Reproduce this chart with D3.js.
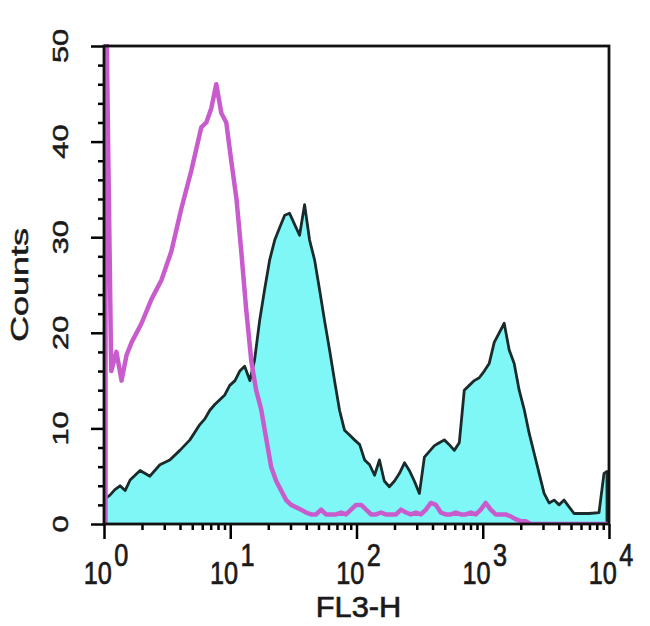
<!DOCTYPE html>
<meta charset="utf-8">
<style>
body { margin: 0; background: #fff; }
text { font-family: "Liberation Sans", Arial, sans-serif; fill: #1a1a1a; stroke: #1a1a1a; stroke-width: 0.5px; }
</style>
<div id="chart"></div>
<script src="https://d3js.org/d3.v7.min.js"></script>
<script>

// FL3-H channel values (log scale, 10^0 .. 10^4)
var bins = [1.0, 1.11, 1.22, 1.34, 1.47, 1.61, 1.93, 2.31, 2.77, 3.32, 3.99, 4.79, 5.74, 6.29, 6.89, 7.54,
  8.26, 9.05, 9.91, 10.9, 11.9, 13.0, 14.3, 15.6, 17.1, 18.7, 20.5, 22.5, 24.6, 27.0, 29.5, 35.4,
  38.8, 42.5, 46.6, 51.0, 55.8, 61.2, 67.0, 73.4, 80.4, 88.1, 96.4, 106, 116, 127, 139, 152,
  166, 182, 200, 219, 240, 262, 287, 315, 345, 378, 414, 453, 496, 543, 595, 652,
  714, 782, 857, 938, 1028, 1125, 1233, 1350, 1479, 1620, 1774, 1943, 2128, 2331, 2553, 2796,
  3062, 3354, 3674, 4024, 4407, 4827, 5287, 5791, 6947, 8335, 9130, 9640];

// stained sample (cyan filled histogram)
var stainedCounts = [2.6, 3, 3.6, 4, 3.5, 4.6, 5.6, 5, 6.2, 6.7, 7.7, 8.8, 10.4, 11, 11.9, 12.5,
  13, 13.5, 14.5, 15, 16, 16.5, 15, 17.2, 21.3, 24.5, 27.6, 29.7, 31, 32.3, 32.5, 30.2,
  33.4, 29.7, 27.6, 24.5, 21.3, 18.2, 15, 11.9, 9.8, 9.3, 8.8, 8.3, 6.7, 6.2, 5.1, 6.7,
  4.5, 3.9, 4.5, 5.3, 6.4, 5.6, 4.5, 3.2, 7, 7.6, 8.2, 8.5, 8.8, 8.3, 7.7, 8.5,
  14, 14.5, 15, 15.3, 16, 16.8, 19, 20, 21, 18.2, 16.8, 14, 12, 9.5, 7.4, 5.3,
  3.2, 2.2, 2.5, 2, 2.5, 1.8, 1.1, 1.1, 1.1, 1.2, 5.3, 5.5];

// isotype control (magenta line)
var controlCounts = [60, 16, 18, 15, 17.7, 19, 21, 23.5, 25.5, 28.5, 33, 37, 41.5, 42, 43.5, 46,
  43, 42, 38, 34, 28.5, 22.5, 17, 14, 12, 9, 6, 4.5, 3.5, 2.5, 2, 1.5,
  1.2, 1, 1, 1.5, 1, 1, 1, 1.2, 1, 1.5, 2, 2, 1.5, 1, 1, 1.2,
  1, 1, 1, 1.5, 1.2, 1, 1.2, 1, 1.5, 2.2, 2, 1.2, 1, 1, 1.2, 1,
  1, 1.2, 1, 1.5, 2.2, 1.5, 1, 1, 1, 0.8, 0.5, 0.3, 0.3, 0, 0, 0,
  0, 0, 0, 0, 0, 0, 0, 0, 0, 0, 0, 0];

var yMajor = [0, 10, 20, 30, 40, 50];
var xMajor = [1, 10, 100, 1000, 10000];
var xExp = ["0", "1", "2", "3", "4"];

var W = 650, H = 626;
var pL = 104, pR = 609, pT = 46, pB = 524;

var svg = d3.select("#chart").append("svg")
    .attr("width", W)
    .attr("height", H);

var x = d3.scaleLog().domain([1, 10000]).range([pL, pR]);
var y = d3.scaleLinear().domain([0, 50]).range([pB, pT]);

svg.append("clipPath").attr("id", "plot")
  .append("rect")
    .attr("x", pL).attr("y", pT - 2)
    .attr("width", pR - pL).attr("height", pB - pT + 2);

var stained = bins.map(function(b, i) { return [b, stainedCounts[i]]; });
var control = bins.map(function(b, i) { return [b, controlCounts[i]]; });
// histograms start and end on the baseline
stained = [[bins[0], 0]].concat(stained, [[bins[bins.length - 1], 0]]);
control = [[bins[0], 0]].concat(control);

var g = svg.append("g").attr("clip-path", "url(#plot)");

g.append("path")
    .datum(stained)
    .attr("fill", "#80f7f7")
    .attr("d", d3.area()
      .x(function(d) { return x(d[0]); })
      .y0(y(0))
      .y1(function(d) { return y(d[1]); }));

g.append("path")
    .datum(stained)
    .attr("fill", "none")
    .attr("stroke", "#1b2a2a")
    .attr("stroke-width", 2.8)
    .attr("stroke-linejoin", "round")
    .attr("d", d3.line()
      .x(function(d) { return x(d[0]); })
      .y(function(d) { return y(d[1]); }));

g.append("path")
    .datum(control)
    .attr("fill", "none")
    .attr("stroke", "#c95ccd")
    .attr("stroke-width", 4.5)
    .attr("stroke-linejoin", "round")
    .attr("d", d3.line()
      .x(function(d) { return x(d[0]) + 1.5; })
      .y(function(d) { return y(d[1]); }));

// minor ticks
var yMinor = d3.range(0, 51, 2).filter(function(v) { return v % 10 != 0; });
svg.append("g")
    .attr("transform", "translate(" + pL + ",0)")
    .call(d3.axisLeft(y).tickValues(yMinor).tickSize(6).tickFormat(""))
    .call(function(a) { a.select(".domain").remove(); })
    .selectAll("line").attr("stroke-width", 2.5);

var xMinor = [];
[1, 10, 100, 1000].forEach(function(d) {
  for (var k = 2; k < 10; k++) xMinor.push(d * k);
});
svg.append("g")
    .attr("transform", "translate(0," + pB + ")")
    .call(d3.axisBottom(x).tickValues(xMinor).tickSize(6).tickFormat(""))
    .call(function(a) { a.select(".domain").remove(); })
    .selectAll("line").attr("stroke-width", 2.5);

// major ticks
svg.append("g")
    .attr("transform", "translate(" + pL + ",0)")
    .call(d3.axisLeft(y).tickValues(yMajor).tickSize(13).tickFormat(""))
    .call(function(a) { a.select(".domain").remove(); })
    .selectAll("line").attr("stroke-width", 2.5);

svg.append("g")
    .attr("transform", "translate(0," + pB + ")")
    .call(d3.axisBottom(x).tickValues(xMajor).tickSize(15).tickFormat(""))
    .call(function(a) { a.select(".domain").remove(); })
    .selectAll("line").attr("stroke-width", 2.5);

// frame
svg.append("rect")
    .attr("x", pL).attr("y", pT)
    .attr("width", pR - pL).attr("height", pB - pT)
    .attr("fill", "none")
    .attr("stroke", "#111")
    .attr("stroke-width", 2.8);

// y tick labels (rotated, stretched like the source image)
svg.append("g").selectAll("text")
    .data(yMajor)
    .enter().append("text")
      .attr("transform", function(d) { return "translate(68," + y(d) + ") scale(1,1.4) rotate(-90)"; })
      .attr("text-anchor", "middle")
      .attr("font-size", 22)
      .text(function(d) { return d; });

// x tick labels 10^n
var xl = svg.append("g").selectAll("text")
    .data(xMajor)
    .enter().append("text")
      .attr("transform", function(d) { return "translate(" + (x(d) + 2) + ",584) scale(1.15,1.4)"; })
      .attr("text-anchor", "middle")
      .attr("font-size", 22);
xl.append("tspan").text("10");
xl.append("tspan")
    .attr("dy", -13)
    .attr("dx", 2)
    .text(function(d, i) { return xExp[i]; });

svg.append("text")
    .attr("transform", "translate(" + ((pL + pR) / 2 + 2) + ",617) scale(1.4,1.3)")
    .attr("text-anchor", "middle")
    .attr("font-size", 22)
    .text("FL3-H");

svg.append("text")
    .attr("transform", "translate(28,285) scale(1,1.5) rotate(-90)")
    .attr("text-anchor", "middle")
    .attr("font-size", 24)
    .text("Counts");

</script>
